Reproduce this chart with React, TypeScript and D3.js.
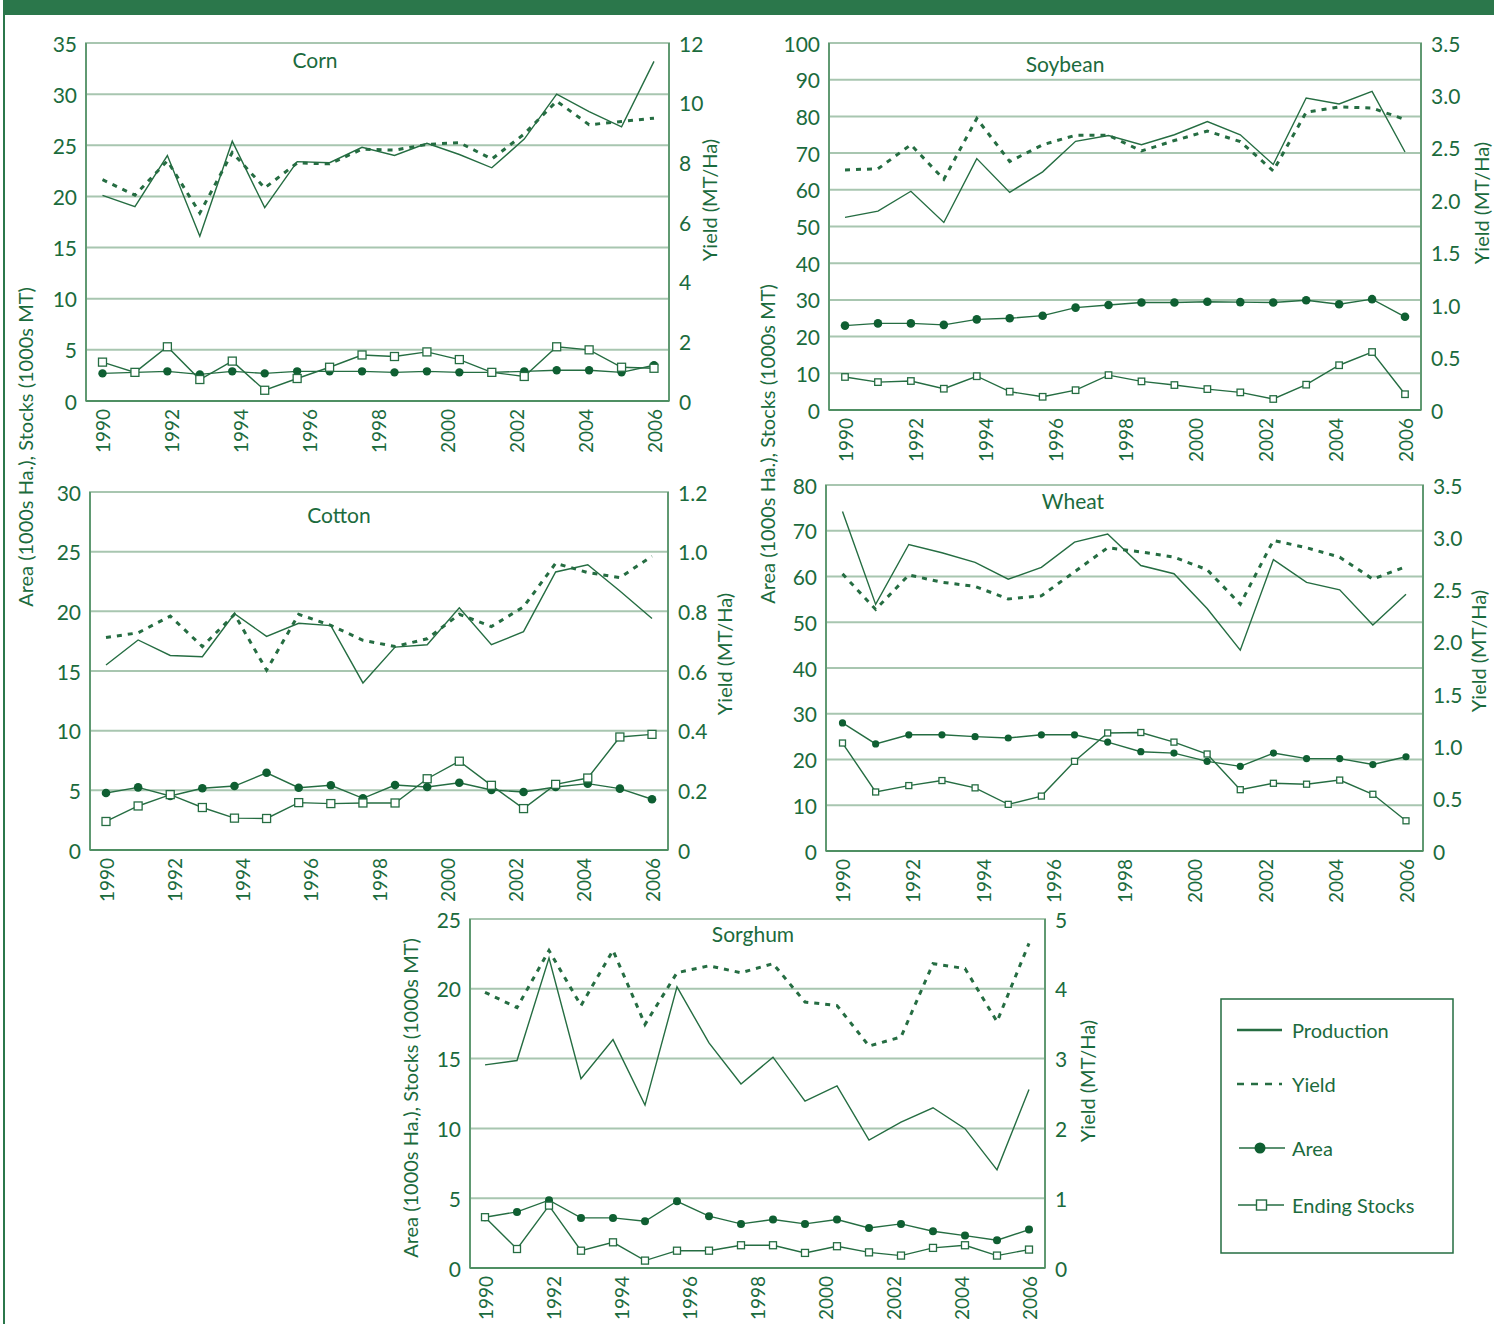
import React from "react";
import * as d3 from "d3";

// ---------- tick labels ----------
const yearTicks = ["1990", "1992", "1994", "1996", "1998", "2000", "2002", "2004", "2006"];

// ---------- Corn ----------
const cornProduction = [20.1, 19.0, 24.0, 16.1, 25.4, 18.9, 23.4, 23.3, 24.8, 24.0, 25.2, 24.1, 22.8, 25.6, 30.0, 28.3, 26.8, 33.2];
const cornYield = [7.42, 6.9, 8.05, 6.3, 8.33, 7.14, 7.98, 7.95, 8.44, 8.41, 8.6, 8.66, 8.11, 8.95, 10.05, 9.26, 9.37, 9.48];
const cornArea = [2.7, 2.8, 2.9, 2.6, 2.9, 2.7, 2.9, 2.9, 2.9, 2.8, 2.9, 2.8, 2.8, 2.9, 3.0, 3.0, 2.8, 3.5];
const cornStocks = [3.8, 2.8, 5.3, 2.1, 3.9, 1.05, 2.2, 3.3, 4.5, 4.35, 4.8, 4.05, 2.8, 2.4, 5.3, 5.0, 3.3, 3.2];
const cornLeftTicks = [0, 5, 10, 15, 20, 25, 30, 35];
const cornRightTicks = [0, 2, 4, 6, 8, 10, 12];

// ---------- Soybean ----------
const soyProduction = [52.5, 54.2, 59.6, 51.1, 68.5, 59.3, 64.9, 73.2, 74.8, 72.3, 75.0, 78.6, 75.0, 66.9, 85.0, 83.4, 86.8, 70.3];
const soyYield = [2.29, 2.3, 2.53, 2.2, 2.78, 2.37, 2.53, 2.62, 2.62, 2.47, 2.57, 2.66, 2.56, 2.28, 2.84, 2.89, 2.88, 2.77];
const soyArea = [23.0, 23.6, 23.6, 23.2, 24.7, 25.0, 25.7, 27.9, 28.6, 29.3, 29.3, 29.5, 29.4, 29.3, 29.9, 28.8, 30.2, 25.4];
const soyStocks = [9.0, 7.6, 7.9, 5.8, 9.2, 5.0, 3.6, 5.4, 9.5, 7.8, 6.8, 5.7, 4.8, 3.0, 6.9, 12.2, 15.8, 4.3];
const soyLeftTicks = [0, 10, 20, 30, 40, 50, 60, 70, 80, 90, 100];
const soyRightTicks = [0, 0.5, 1.0, 1.5, 2.0, 2.5, 3.0, 3.5];

// ---------- Cotton ----------
const cottonProduction = [15.5, 17.6, 16.3, 16.2, 19.8, 17.9, 19.0, 18.8, 14.0, 17.0, 17.2, 20.3, 17.2, 18.3, 23.3, 23.9, 21.7, 19.4];
const cottonYield = [0.712, 0.728, 0.784, 0.682, 0.79, 0.603, 0.79, 0.753, 0.703, 0.682, 0.708, 0.79, 0.749, 0.815, 0.961, 0.93, 0.913, 0.985];
const cottonArea = [4.78, 5.25, 4.53, 5.17, 5.36, 6.47, 5.22, 5.42, 4.33, 5.44, 5.28, 5.64, 5.03, 4.86, 5.28, 5.56, 5.14, 4.25];
const cottonStocks = [2.39, 3.69, 4.64, 3.56, 2.67, 2.64, 3.97, 3.89, 3.94, 3.94, 5.97, 7.44, 5.42, 3.47, 5.5, 6.03, 9.47, 9.69];
const cottonLeftTicks = [0, 5, 10, 15, 20, 25, 30];
const cottonRightTicks = [0, 0.2, 0.4, 0.6, 0.8, 1.0, 1.2];

// ---------- Wheat ----------
const wheatProduction = [74.2, 53.9, 67.0, 65.2, 63.1, 59.4, 62.0, 67.5, 69.3, 62.4, 60.6, 53.0, 43.9, 63.7, 58.7, 57.1, 49.4, 56.1];
const wheatYield = [2.65, 2.31, 2.64, 2.57, 2.53, 2.41, 2.44, 2.67, 2.9, 2.86, 2.81, 2.69, 2.36, 2.97, 2.9, 2.81, 2.6, 2.72];
const wheatArea = [28.0, 23.4, 25.4, 25.4, 25.0, 24.7, 25.4, 25.4, 23.8, 21.7, 21.4, 19.6, 18.5, 21.4, 20.2, 20.2, 18.9, 20.6];
const wheatStocks = [23.6, 12.9, 14.3, 15.4, 13.8, 10.2, 12.0, 19.6, 25.8, 25.9, 23.8, 21.2, 13.4, 14.8, 14.6, 15.5, 12.4, 6.6];
const wheatLeftTicks = [0, 10, 20, 30, 40, 50, 60, 70, 80];
const wheatRightTicks = [0, 0.5, 1.0, 1.5, 2.0, 2.5, 3.0, 3.5];

// ---------- Sorghum ----------
const sorghumProduction = [14.55, 14.86, 22.2, 13.56, 16.36, 11.67, 20.14, 16.12, 13.18, 15.1, 11.96, 13.04, 9.16, 10.45, 11.48, 9.98, 7.03, 12.78];
const sorghumYield = [3.95, 3.73, 4.55, 3.76, 4.55, 3.49, 4.23, 4.33, 4.23, 4.36, 3.81, 3.76, 3.18, 3.31, 4.36, 4.29, 3.53, 4.65];
const sorghumArea = [3.64, 4.02, 4.86, 3.59, 3.59, 3.35, 4.78, 3.71, 3.16, 3.47, 3.16, 3.47, 2.87, 3.16, 2.63, 2.32, 1.99, 2.75];
const sorghumStocks = [3.64, 1.36, 4.47, 1.24, 1.84, 0.53, 1.24, 1.24, 1.63, 1.63, 1.08, 1.56, 1.12, 0.89, 1.44, 1.63, 0.89, 1.32];
const sorghumLeftTicks = [0, 5, 10, 15, 20, 25];
const sorghumRightTicks = [0, 1, 2, 3, 4, 5];

const legendItems = ["Production", "Yield", "Area", "Ending Stocks"];

// ---------- styles ----------
const FONT = "Lato, 'Open Sans', 'DejaVu Sans', sans-serif";
const TEXT = "#1b6b3d";
const LINE = "#256d42";
const DOT = "#0f5f32";
const GRID = "#a8c6b0";
const FRAME = "#4f8f63";
const HEADER = "#2b774b";

const fmt1 = (d: number) => (d === 0 ? "0" : d3.format(".1f")(d));
const fmt0 = (d: number) => String(d);

type Cfg = {
  title: string;
  production: number[];
  yieldV: number[];
  area: number[];
  stocks: number[];
  leftTicks: number[];
  rightTicks: number[];
  rightFmt: (d: number) => string;
  plot: { left: number; right: number; top: number; bottom: number };
  xFirst: number;
  xLast: number;
  titleX: number;
  titleY: number;
  rightTitleX: number;
  rightTitleY: number;
  sq: number;
  dotR: number;
};

const panels: Cfg[] = [
  {
    title: "Corn", production: cornProduction, yieldV: cornYield, area: cornArea, stocks: cornStocks,
    leftTicks: cornLeftTicks, rightTicks: cornRightTicks, rightFmt: fmt0,
    plot: { left: 86, right: 669, top: 43, bottom: 401 }, xFirst: 102.5, xLast: 654,
    titleX: 315, titleY: 59, rightTitleX: 709, rightTitleY: 200, sq: 8, dotR: 4.2,
  },
  {
    title: "Soybean", production: soyProduction, yieldV: soyYield, area: soyArea, stocks: soyStocks,
    leftTicks: soyLeftTicks, rightTicks: soyRightTicks, rightFmt: fmt1,
    plot: { left: 829, right: 1421, top: 43, bottom: 410 }, xFirst: 845, xLast: 1405,
    titleX: 1065, titleY: 63, rightTitleX: 1481, rightTitleY: 203, sq: 6.5, dotR: 4.3,
  },
  {
    title: "Cotton", production: cottonProduction, yieldV: cottonYield, area: cottonArea, stocks: cottonStocks,
    leftTicks: cottonLeftTicks, rightTicks: cottonRightTicks, rightFmt: fmt1,
    plot: { left: 90, right: 668, top: 492, bottom: 850 }, xFirst: 106, xLast: 652,
    titleX: 339, titleY: 514, rightTitleX: 724, rightTitleY: 654, sq: 8, dotR: 4.3,
  },
  {
    title: "Wheat", production: wheatProduction, yieldV: wheatYield, area: wheatArea, stocks: wheatStocks,
    leftTicks: wheatLeftTicks, rightTicks: wheatRightTicks, rightFmt: fmt1,
    plot: { left: 826, right: 1423, top: 485, bottom: 851 }, xFirst: 842.5, xLast: 1406,
    titleX: 1073, titleY: 500, rightTitleX: 1478, rightTitleY: 651, sq: 6, dotR: 3.6,
  },
  {
    title: "Sorghum", production: sorghumProduction, yieldV: sorghumYield, area: sorghumArea, stocks: sorghumStocks,
    leftTicks: sorghumLeftTicks, rightTicks: sorghumRightTicks, rightFmt: fmt0,
    plot: { left: 470, right: 1045, top: 919, bottom: 1268 }, xFirst: 485, xLast: 1029,
    titleX: 753, titleY: 933, rightTitleX: 1087, rightTitleY: 1081, sq: 7, dotR: 4.0,
  },
];

function Panel({ cfg }: { cfg: Cfg }) {
  const { plot } = cfg;
  const x = d3.scaleLinear().domain([0, cfg.production.length - 1]).range([cfg.xFirst, cfg.xLast]);
  const xt = d3.scalePoint<string>().domain(yearTicks).range([cfg.xFirst, cfg.xLast]);
  const leftMax = cfg.leftTicks[cfg.leftTicks.length - 1];
  const rightMax = cfg.rightTicks[cfg.rightTicks.length - 1];
  const yL = d3.scaleLinear().domain([0, leftMax]).range([plot.bottom, plot.top]);
  const yR = d3.scaleLinear().domain([0, rightMax]).range([plot.bottom, plot.top]);
  const lineL = d3.line<number>().x((_, i) => x(i)).y((d) => yL(d));
  const lineR = d3.line<number>().x((_, i) => x(i)).y((d) => yR(d));

  return (
    <g>
      {/* gridlines */}
      {cfg.leftTicks.slice(1, -1).map((t) => (
        <line key={"g" + t} x1={plot.left} x2={plot.right} y1={yL(t)} y2={yL(t)} stroke={GRID} strokeWidth={2} />
      ))}
      {/* frame */}
      <rect x={plot.left} y={plot.top} width={plot.right - plot.left} height={plot.bottom - plot.top}
        fill="none" stroke={GRID} strokeWidth={2} />
      <line x1={plot.left} x2={plot.left} y1={plot.top} y2={plot.bottom} stroke={FRAME} strokeWidth={1.6} />
      <line x1={plot.right} x2={plot.right} y1={plot.top} y2={plot.bottom} stroke={FRAME} strokeWidth={1.6} />
      <line x1={plot.left} x2={plot.right} y1={plot.bottom} y2={plot.bottom} stroke={FRAME} strokeWidth={2} />

      {/* left tick labels */}
      {cfg.leftTicks.map((t) => (
        <text key={"l" + t} x={plot.left - 9} y={yL(t)} textAnchor="end" dominantBaseline="central"
          fontSize={21} fill={TEXT} fontFamily={FONT}>{t}</text>
      ))}
      {/* right tick labels */}
      {cfg.rightTicks.map((t) => (
        <text key={"r" + t} x={plot.right + 10} y={yR(t)} textAnchor="start" dominantBaseline="central"
          fontSize={21} fill={TEXT} fontFamily={FONT}>{cfg.rightFmt(t)}</text>
      ))}
      {/* year tick labels */}
      {yearTicks.map((yr) => (
        <text key={yr} transform={`translate(${xt(yr)},${plot.bottom + 8}) rotate(-90)`}
          textAnchor="end" dominantBaseline="central" fontSize={19} fill={TEXT} fontFamily={FONT}>{yr}</text>
      ))}
      {/* titles */}
      <text x={cfg.titleX} y={cfg.titleY} textAnchor="middle" dominantBaseline="central" fontSize={21}
        fill={TEXT} fontFamily={FONT}>{cfg.title}</text>
      <text transform={`translate(${cfg.rightTitleX},${cfg.rightTitleY}) rotate(-90)`} textAnchor="middle"
        dominantBaseline="central" fontSize={20} fill={TEXT} fontFamily={FONT}>Yield (MT/Ha)</text>

      {/* series */}
      <path d={lineL(cfg.stocks) || ""} fill="none" stroke={LINE} strokeWidth={1.4} />
      <path d={lineL(cfg.area) || ""} fill="none" stroke={LINE} strokeWidth={1.4} />
      <path d={lineL(cfg.production) || ""} fill="none" stroke={LINE} strokeWidth={1.4} />
      <path d={lineR(cfg.yieldV) || ""} fill="none" stroke={LINE} strokeWidth={3} strokeDasharray="5 6" />
      {cfg.area.map((d, i) => (
        <circle key={"a" + i} cx={x(i)} cy={yL(d)} r={cfg.dotR} fill={DOT} />
      ))}
      {cfg.stocks.map((d, i) => (
        <rect key={"s" + i} x={x(i) - cfg.sq / 2} y={yL(d) - cfg.sq / 2} width={cfg.sq} height={cfg.sq}
          fill="#fff" stroke={LINE} strokeWidth={1.3} />
      ))}
    </g>
  );
}

function Legend() {
  const box = { x: 1221, y: 999, w: 232, h: 254 };
  const rowsY = [1030, 1084, 1148, 1205];
  const textX = 1292;
  return (
    <g>
      <rect x={box.x} y={box.y} width={box.w} height={box.h} fill="#fff" stroke={LINE} strokeWidth={1.5} />
      <line x1={1237} x2={1282} y1={rowsY[0]} y2={rowsY[0]} stroke={LINE} strokeWidth={2.5} />
      <line x1={1237} x2={1282} y1={rowsY[1]} y2={rowsY[1]} stroke={LINE} strokeWidth={2.5} strokeDasharray="7 7" />
      <line x1={1239} x2={1285} y1={rowsY[2]} y2={rowsY[2]} stroke={LINE} strokeWidth={1.6} />
      <circle cx={1260} cy={rowsY[2]} r={5.5} fill={DOT} />
      <line x1={1238} x2={1284} y1={rowsY[3]} y2={rowsY[3]} stroke={LINE} strokeWidth={1.6} />
      <rect x={1256.5} y={rowsY[3] - 5} width={10} height={10} fill="#fff" stroke={LINE} strokeWidth={1.4} />
      {legendItems.map((t, i) => (
        <text key={t} x={textX} y={rowsY[i]} dominantBaseline="central" fontSize={20} fill={TEXT}
          fontFamily={FONT}>{t}</text>
      ))}
    </g>
  );
}

export default function App() {
  const leftTitle = "Area (1000s Ha.), Stocks (1000s MT)";
  return (
    <svg width={1494} height={1324} viewBox="0 0 1494 1324"
      style={{ position: "absolute", left: 0, top: 0, display: "block", background: "#fff" }}>
      <rect x={0} y={0} width={1494} height={1324} fill="#fff" />
      <rect x={3} y={0} width={1491} height={15} fill={HEADER} />
      <line x1={4} x2={4} y1={0} y2={1324} stroke={HEADER} strokeWidth={2} />
      {panels.map((p) => (
        <Panel key={p.title} cfg={p} />
      ))}
      <text transform="translate(25,447) rotate(-90)" textAnchor="middle" dominantBaseline="central"
        fontSize={20} fill={TEXT} fontFamily={FONT}>{leftTitle}</text>
      <text transform="translate(767,444) rotate(-90)" textAnchor="middle" dominantBaseline="central"
        fontSize={20} fill={TEXT} fontFamily={FONT}>{leftTitle}</text>
      <text transform="translate(410,1098) rotate(-90)" textAnchor="middle" dominantBaseline="central"
        fontSize={20} fill={TEXT} fontFamily={FONT}>{leftTitle}</text>
      <Legend />
    </svg>
  );
}
